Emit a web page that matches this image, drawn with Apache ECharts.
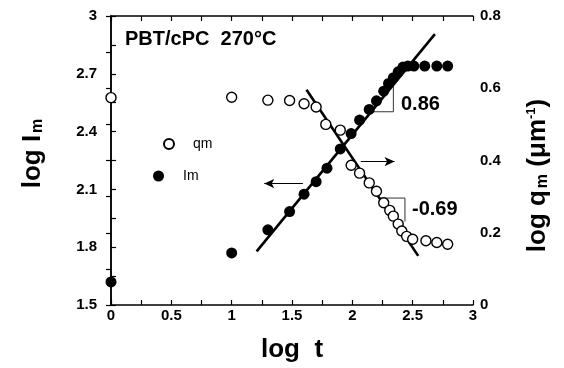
<!DOCTYPE html>
<html>
<head>
<meta charset="utf-8">
<script src="https://cdn.jsdelivr.net/npm/echarts@6/dist/echarts.min.js"></script>
<style>
  html, body { margin: 0; padding: 0; background: #fff; }
  #chart { width: 564px; height: 368px; }
</style>
</head>
<body>
<div id="chart"></div>
<script>
// ======================
// DATA
// ======================

// open circles: log qm (right axis) vs log t
const qmLogT = [0, 1.0, 1.30, 1.48, 1.60, 1.70, 1.78, 1.90, 1.99, 2.06, 2.14, 2.20, 2.26, 2.31, 2.34, 2.38, 2.41, 2.45, 2.50, 2.61, 2.70, 2.79];
const qmVals = [0.574, 0.575, 0.567, 0.566, 0.557, 0.548, 0.500, 0.484, 0.387, 0.365, 0.338, 0.315, 0.283, 0.262, 0.246, 0.224, 0.205, 0.190, 0.182, 0.178, 0.173, 0.168];

// filled circles: log Im (left axis) vs log t
const imLogT = [0, 1.0, 1.30, 1.48, 1.60, 1.70, 1.79, 1.90, 1.99, 2.06, 2.14, 2.20, 2.26, 2.30, 2.34, 2.38, 2.42, 2.46, 2.51, 2.60, 2.70, 2.79];
const imVals = [1.62, 1.77, 1.89, 1.985, 2.075, 2.14, 2.21, 2.31, 2.39, 2.46, 2.515, 2.56, 2.61, 2.65, 2.68, 2.71, 2.735, 2.74, 2.74, 2.74, 2.74, 2.74];

// fitted lines (end points)
const imFitT = [1.207, 2.684];
const imFitV = [1.778, 2.906];
const qmFitT = [1.62, 2.546];
const qmFitV = [0.596, 0.136];

// slope triangles
const imTriT = [2.16, 2.34, 2.34];
const imTriV = [2.503, 2.503, 2.636];
const qmTriT = [2.225, 2.436, 2.436];
const qmTriV = [0.296, 0.296, 0.231];

// arrows [from, to]
const arrowIm = [[1.59, 2.13], [1.27, 2.13]];
const arrowQm = [[2.07, 0.397], [2.35, 0.397]];

// axis ranges / ticks [min, max, interval]
const xRange = [0, 3, 0.5];
const leftRange = [1.5, 3, 0.3];
const rightRange = [0, 0.8, 0.2];

const FONT = '"Liberation Sans", Arial, Helvetica, sans-serif';

const zip = (a, b) => a.map((v, i) => [v, b[i]]);

const chart = echarts.init(document.getElementById('chart'));

const tickStyle = {
    axisLine: { show: true, lineStyle: { color: '#000', width: 1.5 } },
    axisTick: { show: true, inside: true, length: 5, lineStyle: { color: '#000', width: 1.2 } },
    minorTick: { show: true, splitNumber: 2, length: 5, lineStyle: { color: '#000', width: 1.2 } },
    splitLine: { show: false }
};
const labelStyle = { color: '#000', fontFamily: FONT, fontWeight: 'bold', fontSize: 15 };

// rich styles for the rotated axis names (sub/superscripts)
const nameRich = {
    a: { fontFamily: FONT, fontWeight: 'bold', fontSize: 26, color: '#000', lineHeight: 26, verticalAlign: 'top' },
    s: { fontFamily: FONT, fontWeight: 'bold', fontSize: 16, color: '#000', lineHeight: 16, verticalAlign: 'bottom', padding: [22, 0, 0, 2] },
    p: { fontFamily: FONT, fontWeight: 'bold', fontSize: 13, color: '#000', lineHeight: 13, verticalAlign: 'top' }
};

const option = {
    animation: false,
    backgroundColor: '#fff',
    grid: { left: 111, right: 91, top: 16, bottom: 63 },
    title: {
        text: 'PBT/cPC  270°C',
        left: 125, top: 29, padding: 0,
        textStyle: { fontFamily: FONT, fontWeight: 'bold', fontSize: 20, color: '#000' }
    },
    legend: [
        {
            data: ['qm'], left: 163, top: 137, padding: 0, itemWidth: 10, itemHeight: 10,
            textStyle: { fontFamily: FONT, fontSize: 14, color: '#000', padding: [0, 0, 0, 14] }
        },
        {
            data: ['Im'], left: 153, top: 169, padding: 0, itemWidth: 11, itemHeight: 11,
            textStyle: { fontFamily: FONT, fontSize: 14, color: '#000', padding: [0, 0, 0, 14] }
        }
    ],
    xAxis: [
        {
            type: 'value', min: xRange[0], max: xRange[1], interval: xRange[2],
            name: 'log  t', nameLocation: 'middle', nameGap: 32,
            nameTextStyle: { fontFamily: FONT, fontWeight: 'bold', fontSize: 26, color: '#000' },
            axisLabel: Object.assign({ margin: 3 }, labelStyle),
            ...tickStyle
        },
        {
            type: 'value', position: 'top', min: xRange[0], max: xRange[1], interval: xRange[2],
            axisLabel: { show: false },
            ...tickStyle
        }
    ],
    yAxis: [
        {
            type: 'value', min: leftRange[0], max: leftRange[1], interval: leftRange[2],
            name: '{a|log I}{s|m}', nameLocation: 'middle', nameRotate: 90, nameGap: 65,
            nameTextStyle: { rich: nameRich, padding: [0, 0, 0, 14] },
            axisLabel: Object.assign({ margin: 14 }, labelStyle),
            ...tickStyle
        },
        {
            type: 'value', position: 'right', min: rightRange[0], max: rightRange[1], interval: rightRange[2],
            name: '{a|log q}{s|m}{a| (μm}{p|-1}{a|)}', nameLocation: 'middle', nameRotate: 90, nameGap: 52,
            nameTextStyle: { rich: nameRich, padding: [0, 30, 0, 0] },
            axisLabel: Object.assign({ margin: 7 }, labelStyle),
            ...tickStyle
        }
    ],
    series: [
        {
            name: 'qm', type: 'scatter', yAxisIndex: 1, clip: false, z: 4,
            symbol: 'circle', symbolSize: 10,
            itemStyle: { color: '#fff', borderColor: '#000', borderWidth: 1.4, opacity: 1 },
            data: zip(qmLogT, qmVals)
        },
        {
            name: 'Im', type: 'scatter', yAxisIndex: 0, clip: false, z: 5,
            symbol: 'circle', symbolSize: 11,
            itemStyle: { color: '#000', opacity: 1 },
            data: zip(imLogT, imVals)
        },
        {
            type: 'line', yAxisIndex: 0, showSymbol: false, silent: true, z: 3,
            lineStyle: { color: '#000', width: 2.6 },
            data: zip(imFitT, imFitV),
            markLine: {
                silent: true, symbol: ['none', 'arrow'], symbolSize: [7, 10],
                label: { show: false },
                lineStyle: { color: '#000', width: 1, type: 'solid' },
                data: [[{ coord: arrowIm[0] }, { coord: arrowIm[1] }]]
            }
        },
        {
            type: 'line', yAxisIndex: 1, showSymbol: false, silent: true, z: 3,
            lineStyle: { color: '#000', width: 2.6 },
            data: zip(qmFitT, qmFitV),
            markLine: {
                silent: true, symbol: ['none', 'arrow'], symbolSize: [7, 10],
                label: { show: false },
                lineStyle: { color: '#000', width: 1, type: 'solid' },
                data: [[{ coord: arrowQm[0] }, { coord: arrowQm[1] }]]
            }
        },
        {
            type: 'line', yAxisIndex: 0, showSymbol: false, silent: true, z: 2,
            lineStyle: { color: '#333', width: 1 },
            data: zip(imTriT, imTriV)
        },
        {
            type: 'line', yAxisIndex: 1, showSymbol: false, silent: true, z: 2,
            lineStyle: { color: '#333', width: 1 },
            data: zip(qmTriT, qmTriV)
        }
    ],
    graphic: [
        { type: 'text', left: 401, top: 94, style: { text: '0.86', font: 'bold 20px ' + FONT, fill: '#000' } },
        { type: 'text', left: 412, top: 199, style: { text: '-0.69', font: 'bold 20px ' + FONT, fill: '#000' } }
    ]
};

chart.setOption(option);
</script>
</body>
</html>
